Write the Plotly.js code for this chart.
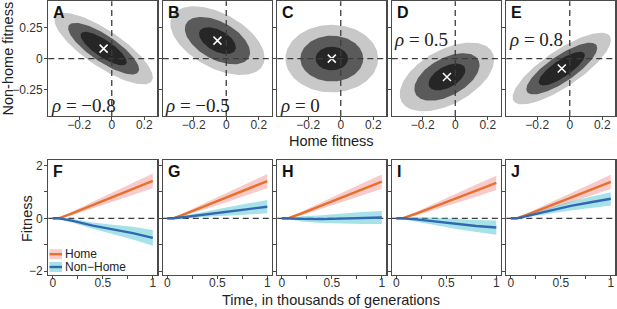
<!DOCTYPE html>
<html><head><meta charset="utf-8">
<script src="https://cdn.plot.ly/plotly-3.0.1.min.js"></script>
<style>html,body{margin:0;padding:0;background:#fff}#chart{width:617px;height:309px}</style>
</head><body><div id="chart"></div>
<script>
// ---------- data: top row (fitness distributions) ----------
const topPanels = ['A','B','C','D','E'];
const rhoValues = [-0.8, -0.5, 0, 0.5, 0.8];
const rhoLabels = ['−0.8', '−0.5', '0', '0.5', '0.8'];
const meanHome = [-0.05, -0.054, -0.055, -0.051, -0.049];
const meanNonHome = [0.08, 0.144, 0, -0.147, -0.08];
const sdHome = 0.1;
const sdNonHome = 0.095;
const densityLevels = [0.29, 2.6, 10.2];   // fixed density contour levels (outer -> inner)
const topXTicks = [-0.2, 0, 0.2];
const topXTickText = ['−0.2', '0', '0.2'];
const topYTicks = [-0.25, 0, 0.25];
const topYTickText = ['−0.25', '0', '0.25'];

// ---------- data: bottom row (fitness trajectories) ----------
const bottomPanels = ['F','G','H','I','J'];
const timeK = [0, 0.06, 0.2, 0.4, 0.6, 0.8, 1.0];
const homeMean = [
  [0, 0, 0.20, 0.50, 0.81, 1.11, 1.42],
  [0, 0, 0.20, 0.50, 0.80, 1.10, 1.41],
  [0, 0, 0.19, 0.49, 0.79, 1.09, 1.39],
  [0, 0, 0.18, 0.47, 0.76, 1.05, 1.34],
  [0, 0, 0.19, 0.48, 0.78, 1.08, 1.38]
];
const homeHalfCI = [
  [0, 0.02, 0.07, 0.13, 0.18, 0.23, 0.28],
  [0, 0.02, 0.07, 0.13, 0.18, 0.23, 0.27],
  [0, 0.02, 0.07, 0.13, 0.18, 0.23, 0.27],
  [0, 0.02, 0.07, 0.13, 0.18, 0.23, 0.27],
  [0, 0.02, 0.07, 0.13, 0.18, 0.23, 0.27]
];
const nonHomeMean = [
  [0, 0, -0.10, -0.28, -0.42, -0.56, -0.74],
  [0, 0, 0.06, 0.16, 0.26, 0.35, 0.44],
  [0, 0, -0.02, -0.03, -0.01, 0.01, 0.03],
  [0, 0, -0.04, -0.12, -0.22, -0.29, -0.35],
  [0, 0, 0.12, 0.30, 0.47, 0.61, 0.74]
];
const nonHomeHalfCI = [
  [0, 0.02, 0.07, 0.12, 0.18, 0.24, 0.30],
  [0, 0.02, 0.07, 0.12, 0.17, 0.21, 0.25],
  [0, 0.03, 0.10, 0.15, 0.20, 0.23, 0.25],
  [0, 0.02, 0.08, 0.14, 0.19, 0.23, 0.27],
  [0, 0.02, 0.07, 0.12, 0.17, 0.21, 0.25]
];
const seriesNames = ['Home', 'Non−Home'];
const botXTicks = [0, 0.25, 0.5, 0.75, 1];
const botXTickText = ['0', '', '0.5', '', '1'];
const botYTicks = [-2, -1, 0, 1, 2];
const botYTickText = ['−2', '', '0', '', '2'];

// ---------- styles ----------
const W = 617, H = 309;
const SANS = 'Liberation Sans, Arial, sans-serif';
const SERIF = 'Liberation Serif, Times New Roman, serif';
const ellipseFill = ['#c8c8c8', '#5a5a5a', '#262626'];
const homeLine = '#e8702c', homeBand = 'rgba(238,130,130,0.42)';
const nonHomeLine = '#3268b2', nonHomeBand = 'rgba(70,195,205,0.48)';
const frameColor = '#4a4a4a';
const dashColor = '#3c3c3c';

const px2x = p => p / W;
const px2y = p => 1 - p / H;
const panelLeft0 = 48.3, panelPitch = 114.5, panelW = 109;
const topRow = [1.2, 116];
const botRow = [160, 274.5];

const traces = [];
const layout = {
  width: W, height: H,
  margin: {l: 0, r: 0, t: 0, b: 0},
  paper_bgcolor: '#fff', plot_bgcolor: '#fff',
  showlegend: false,
  shapes: [], annotations: []
};

function axisBase(isX) {
  return {
    showgrid: false, zeroline: false,
    showline: true, mirror: true, linecolor: frameColor, linewidth: 1.3,
    ticks: 'outside', ticklen: 3, tickwidth: 1, tickcolor: frameColor,
    ticklabelstandoff: isX ? -6 : -1,
    tickfont: {family: SANS, size: 12, color: '#333'},
    fixedrange: true
  };
}

for (let i = 0; i < 5; i++) {
  const x0 = panelLeft0 + i * panelPitch;
  // ----- top panel -----
  const n = i + 1;
  const xs = n === 1 ? 'x' : 'x' + n, ys = n === 1 ? 'y' : 'y' + n;
  layout['xaxis' + (n === 1 ? '' : n)] = Object.assign(axisBase(true), {
    domain: [px2x(x0), px2x(x0 + panelW)], anchor: ys,
    range: [-0.39, 0.28], tickvals: topXTicks, ticktext: topXTickText
  });
  layout['yaxis' + (n === 1 ? '' : n)] = Object.assign(axisBase(false), {
    domain: [px2y(topRow[1]), px2y(topRow[0])], anchor: xs,
    range: [-0.46, 0.46], tickvals: topYTicks, ticktext: topYTickText,
    showticklabels: i === 0
  });
  const rho = rhoValues[i];
  const sq = Math.sqrt(1 - rho * rho);
  const norm = 2 * Math.PI * sdHome * sdNonHome * sq;
  densityLevels.forEach((c, li) => {
    // Mahalanobis radius of the bivariate-normal density contour at level c
    const k = Math.sqrt(-2 * Math.log(c * norm));
    const ex = [], ey = [];
    for (let s = 0; s <= 120; s++) {
      const t = 2 * Math.PI * s / 120;
      ex.push(meanHome[i] + k * sdHome * Math.cos(t));
      ey.push(meanNonHome[i] + k * sdNonHome * (rho * Math.cos(t) + sq * Math.sin(t)));
    }
    traces.push({x: ex, y: ey, xaxis: xs, yaxis: ys, type: 'scatter', mode: 'lines',
      fill: 'toself', fillcolor: ellipseFill[li], line: {width: 0, color: ellipseFill[li]},
      hoverinfo: 'skip'});
  });
  traces.push({x: [meanHome[i]], y: [meanNonHome[i]], xaxis: xs, yaxis: ys, type: 'scatter',
    mode: 'markers', marker: {symbol: 'x-thin', size: 8, line: {color: '#fff', width: 1.5}},
    hoverinfo: 'skip'});
  layout.shapes.push({type: 'line', xref: xs, yref: ys + ' domain', x0: 0, x1: 0, y0: 0, y1: 1,
    line: {color: dashColor, width: 1.3, dash: '6px,4px'}, layer: 'above'});
  layout.shapes.push({type: 'line', xref: xs + ' domain', yref: ys, x0: 0, x1: 1, y0: 0, y1: 0,
    line: {color: dashColor, width: 1.3, dash: '6px,4px'}, layer: 'above'});
  layout.annotations.push({xref: xs + ' domain', yref: ys + ' domain', x: 0.025, y: 0.995,
    xanchor: 'left', yanchor: 'top', showarrow: false, text: '<b>' + topPanels[i] + '</b>',
    font: {family: SANS, size: 16, color: '#111'}});
  const rhoUp = rho > 0;
  layout.annotations.push({xref: xs + ' domain', yref: ys + ' domain', x: 0.005, y: rhoUp ? 0.67 : 0.09,
    xanchor: 'left', yanchor: 'middle', showarrow: false,
    text: '<i>ρ</i> = ' + rhoLabels[i], font: {family: SERIF, size: 19, color: '#222'}});

  // ----- bottom panel -----
  const m = i + 6;
  const bx = 'x' + m, by = 'y' + m;
  layout['xaxis' + m] = Object.assign(axisBase(true), {
    domain: [px2x(x0), px2x(x0 + panelW)], anchor: by,
    range: [-0.045, 1.045], tickvals: botXTicks, ticktext: botXTickText
  });
  layout['yaxis' + m] = Object.assign(axisBase(false), {
    domain: [px2y(botRow[1]), px2y(botRow[0])], anchor: bx,
    range: [-2.13, 2.21], tickvals: botYTicks, ticktext: botYTickText,
    showticklabels: i === 0
  });
  const band = (mean, half, color) => ({
    x: timeK.concat(timeK.slice().reverse()),
    y: mean.map((v, j) => v + half[j]).concat(mean.map((v, j) => v - half[j]).reverse()),
    xaxis: bx, yaxis: by, type: 'scatter', mode: 'lines', fill: 'toself',
    fillcolor: color, line: {width: 0}, hoverinfo: 'skip'});
  traces.push(band(homeMean[i], homeHalfCI[i], homeBand));
  traces.push(band(nonHomeMean[i], nonHomeHalfCI[i], nonHomeBand));
  traces.push({x: timeK, y: homeMean[i], xaxis: bx, yaxis: by, type: 'scatter', mode: 'lines',
    name: seriesNames[0], line: {color: homeLine, width: 2.4}, hoverinfo: 'skip'});
  traces.push({x: timeK, y: nonHomeMean[i], xaxis: bx, yaxis: by, type: 'scatter', mode: 'lines',
    name: seriesNames[1], line: {color: nonHomeLine, width: 2.4}, hoverinfo: 'skip'});
  layout.shapes.push({type: 'line', xref: bx + ' domain', yref: by, x0: 0, x1: 1, y0: 0, y1: 0,
    line: {color: dashColor, width: 1.3, dash: '6px,4px'}, layer: 'below'});
  layout.annotations.push({xref: bx + ' domain', yref: by + ' domain', x: 0.025, y: 0.99,
    xanchor: 'left', yanchor: 'top', showarrow: false, text: '<b>' + bottomPanels[i] + '</b>',
    font: {family: SANS, size: 16, color: '#111'}});
}

// ---------- legend (inside panel F) ----------
const legendRows = [[254.2, homeBand, homeLine], [267, nonHomeBand, nonHomeLine]];
legendRows.forEach((r, k) => {
  layout.shapes.push({type: 'rect', xref: 'paper', yref: 'paper',
    x0: px2x(49.5), x1: px2x(62), y0: px2y(r[0] + 5), y1: px2y(r[0] - 5),
    fillcolor: r[1], line: {width: 0}});
  layout.shapes.push({type: 'line', xref: 'paper', yref: 'paper',
    x0: px2x(49.5), x1: px2x(62), y0: px2y(r[0]), y1: px2y(r[0]),
    line: {color: r[2], width: 2.4}});
  layout.annotations.push({xref: 'paper', yref: 'paper', x: px2x(63), y: px2y(r[0]),
    xanchor: 'left', yanchor: 'middle', showarrow: false, text: seriesNames[k],
    font: {family: SANS, size: 12, color: '#222'}});
});

// ---------- axis titles ----------
const titleFont = {family: SANS, size: 14.5, color: '#222'};
layout.annotations.push({xref: 'paper', yref: 'paper', x: px2x(7), y: px2y(58.5), textangle: -90,
  xanchor: 'center', yanchor: 'middle', showarrow: false, text: 'Non-home fitness', font: titleFont});
layout.annotations.push({xref: 'paper', yref: 'paper', x: px2x(331), y: px2y(141.5),
  xanchor: 'center', yanchor: 'middle', showarrow: false, text: 'Home fitness', font: titleFont});
layout.annotations.push({xref: 'paper', yref: 'paper', x: px2x(27), y: px2y(219), textangle: -90,
  xanchor: 'center', yanchor: 'middle', showarrow: false, text: 'Fitness', font: titleFont});
layout.annotations.push({xref: 'paper', yref: 'paper', x: px2x(331), y: px2y(300),
  xanchor: 'center', yanchor: 'middle', showarrow: false, text: 'Time, in thousands of generations', font: titleFont});

Plotly.newPlot('chart', traces, layout, {staticPlot: true, displayModeBar: false});
</script>
</body></html>
